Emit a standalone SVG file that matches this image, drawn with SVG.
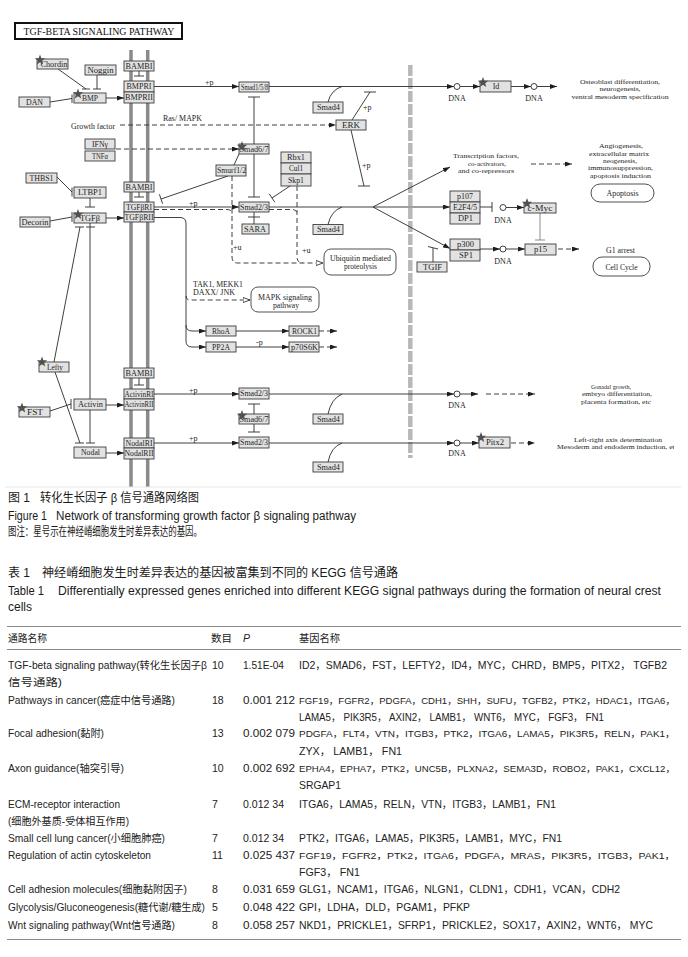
<svg xmlns="http://www.w3.org/2000/svg" width="688" height="957" viewBox="0 0 688 957">
<style>
.b{fill:#e2e2e2;stroke:#3c3c3c;stroke-width:0.9}
.rb{fill:#fff;stroke:#3c3c3c;stroke-width:0.9}
.t{font-family:"Liberation Serif","DejaVu Serif",serif;font-size:8px;fill:#1e1e1e;text-anchor:middle}
.t7{font-family:"Liberation Serif","DejaVu Serif",serif;font-size:6.6px;fill:#1e1e1e;text-anchor:middle}
.t7s{font-family:"Liberation Serif","DejaVu Serif",serif;font-size:6.6px;fill:#1e1e1e}
.ts{font-family:"Liberation Serif","DejaVu Serif",serif;font-size:8px;fill:#1e1e1e}
.l{fill:none;stroke:#2a2a2a;stroke-width:0.9}
.d{fill:none;stroke:#2a2a2a;stroke-width:0.9;stroke-dasharray:5,3}
.g{fill:none;stroke:#808080;stroke-width:0.9}
.mem{stroke:#8a8a8a;stroke-width:3.5}
.dna{fill:#fff;stroke:#2a2a2a;stroke-width:0.9}
.cap{font-family:"Liberation Sans","Noto Sans CJK SC",sans-serif;font-size:12px;fill:#1a1a1a}
.tb{font-family:"Liberation Sans","Noto Sans CJK SC",sans-serif;font-size:10.5px;fill:#222}
.tbw{font-family:"Liberation Sans","Noto Sans CJK SC",sans-serif;font-size:9.5px;fill:#222}
.rule{stroke:#8a8a8a;stroke-width:1}
</style>
<defs>
<marker id="a" viewBox="0 0 7 5" refX="7" refY="2.5" markerWidth="7" markerHeight="5" markerUnits="userSpaceOnUse" orient="auto"><path d="M0,0L7,2.5L0,5z" fill="#1e1e1e"/></marker>
<marker id="o" viewBox="0 0 8 6" refX="7.5" refY="3" markerWidth="8" markerHeight="6" markerUnits="userSpaceOnUse" orient="auto"><path d="M0.5,0.5L7.5,3L0.5,5.5z" fill="#fff" stroke="#1e1e1e" stroke-width="0.8"/></marker>
<path id="star" d="M0,-5.5L1.35,-1.86L5.23,-1.7L2.19,0.71L3.23,4.45L0,2.3L-3.23,4.45L-2.19,0.71L-5.23,-1.7L-1.35,-1.86Z" fill="#505050"/>
<clipPath id="clipR"><rect x="0" y="400" width="674" height="80"/></clipPath>
</defs>
<rect width="688" height="957" fill="#fff"/>

<g id="background">
<line class="mem" x1="131" y1="50" x2="131" y2="487"/>
<line class="mem" x1="147.7" y1="50" x2="147.7" y2="487"/>
<line x1="410.3" y1="65" x2="410.3" y2="458" stroke="#b8b8b8" stroke-width="4.5" stroke-dasharray="11,2"/>
<line x1="5" y1="487" x2="681" y2="487" stroke="#e6e6e6" stroke-width="1"/>
</g>

<g id="title">
<rect x="15" y="23" width="167" height="16" fill="#fff" stroke="#111" stroke-width="2"/>
<text x="99" y="35" font-family="Liberation Serif,serif" font-size="9.5" text-anchor="middle" textLength="151" lengthAdjust="spacingAndGlyphs" fill="#111">TGF-BETA SIGNALING PATHWAY</text>
</g>

<g id="connectors">
<line class="l" x1="58" y1="69" x2="86" y2="89"/>
<line class="l" x1="82" y1="89" x2="90" y2="89"/>
<line class="l" x1="97" y1="75" x2="97" y2="89"/>
<line class="l" x1="93" y1="89" x2="101" y2="89"/>
<line class="l" x1="50" y1="102" x2="72" y2="98.5"/>
<line class="l" x1="72" y1="94.5" x2="72" y2="103"/>
<line class="l" x1="106" y1="98" x2="124" y2="98" marker-end="url(#a)"/>
<line class="l" x1="139" y1="71" x2="139" y2="76"/>
<line class="l" x1="134" y1="76" x2="144" y2="76"/>
<line class="l" x1="154" y1="86.5" x2="239" y2="86.5" marker-end="url(#a)"/>
<line class="l" x1="269" y1="86.5" x2="454" y2="86.5" marker-end="url(#a)"/>
<path class="l" d="M328,102 Q331,90 342,86.5"/>
<line class="l" x1="460" y1="86.5" x2="480" y2="86.5" marker-end="url(#a)"/>
<line class="l" x1="511" y1="86.5" x2="531" y2="86.5" marker-end="url(#a)"/>
<line class="l" x1="537" y1="86.5" x2="557" y2="86.5" marker-end="url(#a)"/>
<line class="d" x1="120" y1="125" x2="336" y2="125" marker-end="url(#a)"/>
<line class="d" x1="116" y1="149" x2="239" y2="149" marker-end="url(#a)"/>
<line class="l" x1="254" y1="97" x2="254" y2="197"/>
<line class="l" x1="248" y1="97" x2="260" y2="97"/>
<line class="l" x1="248" y1="197" x2="260" y2="197"/>
<line class="l" x1="234" y1="165" x2="239" y2="154"/>
<line class="l" x1="228" y1="176" x2="161" y2="199"/>
<line class="l" x1="159.4" y1="194.3" x2="162.6" y2="203.7"/>
<line class="l" x1="293" y1="184" x2="272" y2="198"/>
<line class="l" x1="269.2" y1="193.8" x2="274.8" y2="202.2"/>
<line class="l" x1="352" y1="120" x2="370" y2="92"/>
<line class="l" x1="364" y1="92" x2="376" y2="92"/>
<line class="l" x1="351" y1="130" x2="364" y2="186"/>
<line class="l" x1="358" y1="186" x2="370" y2="186"/>
<line class="l" x1="57" y1="177" x2="72" y2="192"/>
<line class="l" x1="72" y1="187.5" x2="72" y2="196.5"/>
<line class="l" x1="90" y1="198" x2="90" y2="207"/>
<line class="l" x1="85" y1="207" x2="95" y2="207"/>
<line class="l" x1="50" y1="221" x2="72" y2="217"/>
<line class="l" x1="72" y1="212" x2="72" y2="222"/>
<line class="l" x1="106" y1="218" x2="124" y2="218" marker-end="url(#a)"/>
<line class="l" x1="139" y1="192" x2="139" y2="197"/>
<line class="l" x1="134" y1="197" x2="144" y2="197"/>
<line class="l" x1="154" y1="207" x2="239" y2="207" marker-end="url(#a)"/>
<path class="d" d="M154,209.5 H227 Q232,209.5 232,214"/>
<path class="d" d="M232,176 V257 Q232,263 238,263 H323" marker-end="url(#o)"/>
<path class="d" d="M269,209.5 H292 Q297,209.5 297,214"/>
<path class="d" d="M297,186 V257 Q297,263 303,263"/>
<line class="l" x1="254" y1="212" x2="254" y2="224"/>
<line class="l" x1="248" y1="217" x2="260" y2="217"/>
<line class="l" x1="269" y1="207" x2="373" y2="207"/>
<line class="l" x1="373" y1="207" x2="450" y2="167" marker-end="url(#a)"/>
<line class="l" x1="373" y1="207" x2="450" y2="207" marker-end="url(#a)"/>
<line class="l" x1="373" y1="207" x2="450" y2="248.5" marker-end="url(#a)"/>
<path class="l" d="M328,224.5 Q331,211 342,207"/>
<line class="d" x1="531" y1="164" x2="572" y2="164" marker-end="url(#a)"/>
<line class="l" x1="480" y1="207" x2="492" y2="207"/>
<line class="l" x1="492" y1="202" x2="492" y2="212"/>
<line class="l" x1="506" y1="207.5" x2="524" y2="207.5" marker-end="url(#a)"/>
<line class="g" x1="540" y1="213" x2="540" y2="240"/>
<line class="g" x1="535" y1="240" x2="545" y2="240"/>
<line class="l" x1="480" y1="249" x2="500" y2="249" marker-end="url(#a)"/>
<line class="l" x1="506" y1="249" x2="525" y2="249" marker-end="url(#a)"/>
<line class="d" x1="558" y1="249" x2="579" y2="249" marker-end="url(#a)"/>
<line class="l" x1="433" y1="262" x2="433" y2="248"/>
<line class="l" x1="428" y1="246.5" x2="438" y2="249"/>
<path class="l" d="M154,217.5 H180 Q186,217.5 186,223.5 V325 Q186,331 192,331 H206" marker-end="url(#a)"/>
<path class="l" d="M186,325 V341 Q186,347 192,347 H206" marker-end="url(#a)"/>
<path class="d" d="M186,296 Q186,300 190,300 H250" marker-end="url(#o)"/>
<line class="l" x1="236" y1="331" x2="289" y2="331" marker-end="url(#a)"/>
<line class="l" x1="236" y1="347" x2="289" y2="347" marker-end="url(#a)"/>
<line class="d" x1="319" y1="331" x2="337" y2="331" marker-end="url(#a)"/>
<line class="d" x1="319" y1="347" x2="337" y2="347" marker-end="url(#a)"/>
<line class="l" x1="80" y1="227" x2="54" y2="362"/>
<line class="l" x1="75" y1="227" x2="84" y2="227"/>
<line class="l" x1="55" y1="372" x2="80" y2="443"/>
<line class="l" x1="75" y1="443" x2="84" y2="443"/>
<line class="l" x1="90" y1="223" x2="90" y2="443"/>
<line class="l" x1="86" y1="227" x2="95" y2="227"/>
<line class="l" x1="86" y1="443" x2="95" y2="443"/>
<line class="l" x1="50" y1="411" x2="71" y2="404"/>
<line class="l" x1="71" y1="399" x2="71" y2="409"/>
<line class="l" x1="106" y1="405" x2="124" y2="405" marker-end="url(#a)"/>
<line class="l" x1="139" y1="378" x2="139" y2="385"/>
<line class="l" x1="134" y1="385" x2="144" y2="385"/>
<line class="l" x1="154" y1="394" x2="239" y2="394" marker-end="url(#a)"/>
<line class="l" x1="106" y1="453" x2="124" y2="453" marker-end="url(#a)"/>
<line class="l" x1="154" y1="443" x2="239" y2="443" marker-end="url(#a)"/>
<line class="l" x1="254" y1="404" x2="254" y2="432"/>
<line class="l" x1="248" y1="404" x2="260" y2="404"/>
<line class="l" x1="248" y1="432" x2="260" y2="432"/>
<line class="l" x1="269" y1="394" x2="454" y2="394" marker-end="url(#a)"/>
<path class="l" d="M328,414 Q331,399 342,394"/>
<line class="l" x1="460" y1="394" x2="478" y2="394" marker-end="url(#a)"/>
<line class="d" x1="486" y1="394" x2="535" y2="394" marker-end="url(#a)"/>
<line class="l" x1="269" y1="443" x2="454" y2="443" marker-end="url(#a)"/>
<path class="l" d="M328,462 Q331,447 342,443"/>
<line class="l" x1="460" y1="443" x2="479" y2="443" marker-end="url(#a)"/>
<line class="d" x1="511" y1="443" x2="535" y2="443" marker-end="url(#a)"/>
</g>

<g id="dna">
<circle class="dna" cx="457" cy="86.5" r="3"/><text class="t" x="457" y="101">DNA</text>
<circle class="dna" cx="534" cy="86.5" r="3"/><text class="t" x="534" y="101">DNA</text>
<circle class="dna" cx="503" cy="207.5" r="3"/><text class="t" x="503" y="223">DNA</text>
<circle class="dna" cx="503" cy="249" r="3"/><text class="t" x="503" y="264">DNA</text>
<circle class="dna" cx="457" cy="394" r="3"/><text class="t" x="457" y="408">DNA</text>
<circle class="dna" cx="457" cy="443" r="3"/><text class="t" x="457" y="456">DNA</text>
</g>

<g id="labels">
<text class="ts" x="115" y="128.5" text-anchor="end" textLength="44" lengthAdjust="spacingAndGlyphs">Growth factor</text>
<text class="ts" x="163" y="121" textLength="39" lengthAdjust="spacingAndGlyphs">Ras/ MAPK</text>
<text class="ts" x="205" y="85">+p</text>
<text class="ts" x="189" y="206">+p</text>
<text class="ts" x="189" y="393">+p</text>
<text class="ts" x="189" y="441">+p</text>
<text class="ts" x="363" y="110">+p</text>
<text class="ts" x="362" y="168">+p</text>
<text class="ts" x="233" y="250">+u</text>
<text class="ts" x="302" y="252.5">+u</text>
<text class="ts" x="256" y="345">-p</text>
<text class="ts" x="193" y="287" textLength="50" lengthAdjust="spacingAndGlyphs">TAK1, MEKK1</text>
<text class="ts" x="193" y="294.5" textLength="42" lengthAdjust="spacingAndGlyphs">DAXX/ JNK</text>
<text class="t7" x="620" y="84" textLength="80" lengthAdjust="spacingAndGlyphs">Osteoblast differentiation,</text>
<text class="t7" x="620" y="91.3" textLength="41" lengthAdjust="spacingAndGlyphs">neurogenesis,</text>
<text class="t7" x="620" y="98.6" textLength="97" lengthAdjust="spacingAndGlyphs">ventral mesoderm specification</text>
<text class="t7" x="486" y="158.2" textLength="66" lengthAdjust="spacingAndGlyphs">Transcription factors,</text>
<text class="t7" x="487" y="165.6" textLength="38" lengthAdjust="spacingAndGlyphs">co-activators,</text>
<text class="t7" x="486" y="173" textLength="56" lengthAdjust="spacingAndGlyphs">and co-repressors</text>
<text class="t7" x="621" y="148.2" textLength="44" lengthAdjust="spacingAndGlyphs">Angiogenesis,</text>
<text class="t7" x="619" y="155.6" textLength="60" lengthAdjust="spacingAndGlyphs">extracellular matrix</text>
<text class="t7" x="620" y="163" textLength="34" lengthAdjust="spacingAndGlyphs">neogenesis,</text>
<text class="t7" x="620.5" y="170.4" textLength="65" lengthAdjust="spacingAndGlyphs">immunosuppression,</text>
<text class="t7" x="620.5" y="177.8" textLength="61" lengthAdjust="spacingAndGlyphs">apoptosis induction</text>
<text class="t" x="620.5" y="253" textLength="29" lengthAdjust="spacingAndGlyphs">G1 arrest</text>
<text class="t7" x="611" y="389" textLength="40" lengthAdjust="spacingAndGlyphs">Gonadal growth,</text>
<text class="t7" x="617" y="396.3" textLength="70" lengthAdjust="spacingAndGlyphs">embryo differentiation,</text>
<text class="t7" x="616" y="403.6" textLength="70" lengthAdjust="spacingAndGlyphs">placenta formation, etc</text>
<text class="t7" x="618" y="441.6" textLength="88" lengthAdjust="spacingAndGlyphs">Left-right axis determination</text>
<text class="t7s" x="557" y="449" textLength="121" lengthAdjust="spacingAndGlyphs" clip-path="url(#clipR)">Mesoderm and endoderm induction, etc</text>
</g>

<g id="n-chordin"><rect class="b" x="37" y="59" width="31" height="10"/><text class="t" x="54" y="66.8" textLength="27" lengthAdjust="spacingAndGlyphs">Chordin</text><use href="#star" x="40" y="60"/></g>
<g id="n-noggin"><rect class="b" x="85" y="65" width="31" height="10"/><text class="t" x="100.5" y="72.8" textLength="26" lengthAdjust="spacingAndGlyphs">Noggin</text></g>
<g id="n-dan"><rect class="b" x="19" y="97" width="31" height="10"/><text class="t" x="34.5" y="104.8" textLength="17" lengthAdjust="spacingAndGlyphs">DAN</text></g>
<g id="n-bmp"><rect class="b" x="74" y="93" width="32" height="10"/><text class="t" x="90" y="100.8" textLength="16" lengthAdjust="spacingAndGlyphs">BMP</text><use href="#star" x="78" y="94"/></g>
<g id="n-bambi1"><rect class="b" x="124" y="61" width="30" height="10"/><text class="t" x="139" y="68.8" textLength="27" lengthAdjust="spacingAndGlyphs">BAMBI</text></g>
<g id="n-bmpr"><rect class="b" x="124" y="81" width="30" height="11"/><text class="t" x="139" y="89.3" textLength="25" lengthAdjust="spacingAndGlyphs">BMPRI</text><rect class="b" x="124" y="92" width="30" height="11"/><text class="t" x="139" y="100.3" textLength="28" lengthAdjust="spacingAndGlyphs">BMPRII</text></g>
<g id="n-ifng"><rect class="b" x="85" y="139" width="30" height="10"/><text class="t" x="100" y="146.8" textLength="16" lengthAdjust="spacingAndGlyphs">IFNγ</text></g>
<g id="n-tnfa"><rect class="b" x="85" y="151" width="30" height="10"/><text class="t" x="100" y="158.8" textLength="16" lengthAdjust="spacingAndGlyphs">TNFα</text></g>
<g id="n-thbs1"><rect class="b" x="26" y="173" width="31" height="10"/><text class="t" x="41.5" y="180.8" textLength="24" lengthAdjust="spacingAndGlyphs">THBS1</text></g>
<g id="n-ltbp1"><rect class="b" x="74" y="187" width="32" height="11"/><text class="t" x="90" y="195.3" textLength="24" lengthAdjust="spacingAndGlyphs">LTBP1</text></g>
<g id="n-decorin"><rect class="b" x="20" y="217" width="30" height="10"/><text class="t" x="35" y="224.8" textLength="27" lengthAdjust="spacingAndGlyphs">Decorin</text></g>
<g id="n-tgfb"><rect class="b" x="74" y="213" width="32" height="10"/><text class="t" x="90" y="220.8" textLength="20" lengthAdjust="spacingAndGlyphs">TGFβ</text><use href="#star" x="78" y="214.5"/></g>
<g id="n-bambi2"><rect class="b" x="124" y="182" width="30" height="10"/><text class="t" x="139" y="189.8" textLength="27" lengthAdjust="spacingAndGlyphs">BAMBI</text></g>
<g id="n-tgfbr"><rect class="b" x="124" y="202" width="30" height="10"/><text class="t" x="139" y="209.8" textLength="26" lengthAdjust="spacingAndGlyphs">TGFβRI</text><rect class="b" x="124" y="212" width="30" height="10"/><text class="t" x="139" y="219.8" textLength="29" lengthAdjust="spacingAndGlyphs">TGFβRII</text></g>
<g id="n-lefty"><rect class="b" x="39" y="362" width="30" height="10"/><text class="t" x="55" y="369.8" textLength="16" lengthAdjust="spacingAndGlyphs">Lefty</text><use href="#star" x="42" y="362"/></g>
<g id="n-fst"><rect class="b" x="19" y="407" width="31" height="10"/><text class="t" x="35" y="414.8" textLength="16" lengthAdjust="spacingAndGlyphs">FST</text><use href="#star" x="22" y="408"/></g>
<g id="n-activin"><rect class="b" x="74" y="399" width="32" height="11"/><text class="t" x="90.5" y="407.3" textLength="25" lengthAdjust="spacingAndGlyphs">Activin</text></g>
<g id="n-nodal"><rect class="b" x="74" y="447" width="32" height="11"/><text class="t" x="90.5" y="455.3" textLength="19" lengthAdjust="spacingAndGlyphs">Nodal</text></g>
<g id="n-bambi3"><rect class="b" x="124" y="368" width="30" height="10"/><text class="t" x="139" y="375.8" textLength="27" lengthAdjust="spacingAndGlyphs">BAMBI</text></g>
<g id="n-activinr"><rect class="b" x="124" y="389" width="30" height="10"/><text class="t" x="139" y="396.8" textLength="29" lengthAdjust="spacingAndGlyphs">ActivinRI</text><rect class="b" x="124" y="399" width="30" height="11"/><text class="t" x="139" y="407.3" textLength="29" lengthAdjust="spacingAndGlyphs">ActivinRII</text></g>
<g id="n-nodalr"><rect class="b" x="124" y="438" width="30" height="10"/><text class="t" x="139" y="445.8" textLength="27" lengthAdjust="spacingAndGlyphs">NodalRI</text><rect class="b" x="124" y="448" width="30" height="11"/><text class="t" x="139" y="456.3" textLength="29" lengthAdjust="spacingAndGlyphs">NodalRII</text></g>
<g id="n-smad158"><rect class="b" x="239" y="82" width="30" height="10"/><text class="t" x="254.5" y="89.8" textLength="27" lengthAdjust="spacingAndGlyphs">Smad1/5/8</text></g>
<g id="n-smad67a"><rect class="b" x="239" y="144" width="30" height="10"/><text class="t" x="254" y="151.8" textLength="29" lengthAdjust="spacingAndGlyphs">Smad6/7</text><use href="#star" x="242" y="146.5"/></g>
<g id="n-smurf"><rect class="b" x="216" y="165" width="30" height="11"/><text class="t" x="231.5" y="173.3" textLength="29" lengthAdjust="spacingAndGlyphs">Smurf1/2</text></g>
<g id="n-rbx"><rect class="b" x="281" y="152" width="30" height="11"/><text class="t" x="296" y="160.3" textLength="18" lengthAdjust="spacingAndGlyphs">Rbx1</text><rect class="b" x="281" y="163" width="30" height="11"/><text class="t" x="296" y="171.3" textLength="14" lengthAdjust="spacingAndGlyphs">Cul1</text><rect class="b" x="281" y="174" width="30" height="12"/><text class="t" x="296" y="182.8" textLength="16" lengthAdjust="spacingAndGlyphs">Skp1</text></g>
<g id="n-smad23a"><rect class="b" x="239" y="202" width="30" height="10"/><text class="t" x="254" y="209.8" textLength="28" lengthAdjust="spacingAndGlyphs">Smad2/3</text></g>
<g id="n-sara"><rect class="b" x="242" y="224" width="27" height="10"/><text class="t" x="255" y="231.8" textLength="22" lengthAdjust="spacingAndGlyphs">SARA</text></g>
<g id="n-smad4a"><rect class="b" x="313" y="102" width="30" height="11"/><text class="t" x="328.5" y="110.3" textLength="23" lengthAdjust="spacingAndGlyphs">Smad4</text></g>
<g id="n-smad4b"><rect class="b" x="313" y="224.5" width="30" height="10"/><text class="t" x="328.5" y="232.3" textLength="23" lengthAdjust="spacingAndGlyphs">Smad4</text></g>
<g id="n-erk"><rect class="b" x="336" y="120" width="30" height="10"/><text class="t" x="351" y="127.8" textLength="18" lengthAdjust="spacingAndGlyphs">ERK</text></g>
<g id="n-ubiquitin"><rect class="rb" x="324" y="249" width="72" height="26" rx="7"/><text class="t" x="360.5" y="261" textLength="61" lengthAdjust="spacingAndGlyphs">Ubiquitin mediated</text><text class="t" x="360.5" y="268.5" textLength="33" lengthAdjust="spacingAndGlyphs">proteolysis</text></g>
<g id="n-mapk"><rect class="rb" x="251" y="287" width="68" height="25" rx="7"/><text class="t" x="285" y="300" textLength="54" lengthAdjust="spacingAndGlyphs">MAPK signaling</text><text class="t" x="286" y="307.5" textLength="26" lengthAdjust="spacingAndGlyphs">pathway</text></g>
<g id="n-rhoa"><rect class="b" x="206" y="326" width="30" height="10"/><text class="t" x="221" y="333.8" textLength="18" lengthAdjust="spacingAndGlyphs">RhoA</text></g>
<g id="n-rock1"><rect class="b" x="289" y="326" width="30" height="10"/><text class="t" x="304.5" y="333.8" textLength="25" lengthAdjust="spacingAndGlyphs">ROCK1</text></g>
<g id="n-pp2a"><rect class="b" x="206" y="342" width="30" height="10"/><text class="t" x="221" y="349.8" textLength="18" lengthAdjust="spacingAndGlyphs">PP2A</text></g>
<g id="n-p70s6k"><rect class="b" x="289" y="342" width="30" height="10"/><text class="t" x="304.5" y="349.8" textLength="27" lengthAdjust="spacingAndGlyphs">p70S6K</text></g>
<g id="n-smad23b"><rect class="b" x="239" y="388" width="30" height="11"/><text class="t" x="254" y="396.3" textLength="28" lengthAdjust="spacingAndGlyphs">Smad2/3</text></g>
<g id="n-smad67b"><rect class="b" x="239" y="414" width="30" height="10"/><text class="t" x="254" y="421.8" textLength="29" lengthAdjust="spacingAndGlyphs">Smad6/7</text><use href="#star" x="242" y="415.5"/></g>
<g id="n-smad23c"><rect class="b" x="239" y="437" width="30" height="11"/><text class="t" x="254" y="445.3" textLength="28" lengthAdjust="spacingAndGlyphs">Smad2/3</text></g>
<g id="n-smad4c"><rect class="b" x="313" y="414" width="30" height="10"/><text class="t" x="328.5" y="421.8" textLength="23" lengthAdjust="spacingAndGlyphs">Smad4</text></g>
<g id="n-smad4d"><rect class="b" x="313" y="462" width="30" height="10"/><text class="t" x="328.5" y="469.8" textLength="23" lengthAdjust="spacingAndGlyphs">Smad4</text></g>
<g id="n-id"><rect class="b" x="480" y="81" width="31" height="11"/><text class="t" x="496" y="89.3">Id</text><use href="#star" x="483" y="82.5"/></g>
<g id="n-e2f"><rect class="b" x="450" y="191" width="30" height="11"/><text class="t" x="465" y="199.3" textLength="16" lengthAdjust="spacingAndGlyphs">p107</text><rect class="b" x="450" y="202" width="30" height="11"/><text class="t" x="465" y="210.3" textLength="24" lengthAdjust="spacingAndGlyphs">E2F4/5</text><rect class="b" x="450" y="213" width="30" height="11"/><text class="t" x="465.5" y="221.3" textLength="15" lengthAdjust="spacingAndGlyphs">DP1</text></g>
<g id="n-cmyc"><rect class="b" x="524" y="203" width="32" height="10"/><text class="t" x="540" y="210.8" textLength="25" lengthAdjust="spacingAndGlyphs">c-Myc</text><use href="#star" x="527" y="203.5"/></g>
<g id="n-p300"><rect class="b" x="450" y="239" width="30" height="11"/><text class="t" x="465.5" y="247.3" textLength="17" lengthAdjust="spacingAndGlyphs">p300</text><rect class="b" x="450" y="250" width="30" height="11"/><text class="t" x="466" y="258.3" textLength="14" lengthAdjust="spacingAndGlyphs">SP1</text></g>
<g id="n-p15"><rect class="b" x="525" y="244" width="31" height="11"/><text class="t" x="540.5" y="252.3" textLength="13" lengthAdjust="spacingAndGlyphs">p15</text></g>
<g id="n-tgif"><rect class="b" x="417" y="262" width="30" height="10"/><text class="t" x="432.5" y="269.8" textLength="19" lengthAdjust="spacingAndGlyphs">TGIF</text></g>
<g id="n-pitx2"><rect class="b" x="479" y="437" width="31" height="11"/><text class="t" x="495" y="445.3" textLength="18" lengthAdjust="spacingAndGlyphs">Pitx2</text><use href="#star" x="481" y="437.5"/></g>
<g id="n-apoptosis"><rect class="rb" x="591" y="184" width="63" height="18" rx="9"/><text class="t" x="622.5" y="196" textLength="32" lengthAdjust="spacingAndGlyphs">Apoptosis</text></g>
<g id="n-cellcycle"><rect class="rb" x="593" y="257" width="57" height="19" rx="9"/><text class="t" x="621.5" y="269.5" textLength="32" lengthAdjust="spacingAndGlyphs">Cell Cycle</text></g>

<g id="caption">
<text class="cap" x="8" y="502">图 1</text>
<text class="cap" x="40" y="502" textLength="159" lengthAdjust="spacingAndGlyphs">转化生长因子 β 信号通路网络图</text>
<text class="cap" x="8" y="520" textLength="39" lengthAdjust="spacingAndGlyphs">Figure 1</text>
<text class="cap" x="56" y="520" textLength="300" lengthAdjust="spacingAndGlyphs">Network of transforming growth factor β signaling pathway</text>
<text class="cap" x="8" y="535.5" font-size="9" fill="#555" textLength="194" lengthAdjust="spacingAndGlyphs">图注：星号示在神经嵴细胞发生时差异表达的基因。</text>
<text class="cap" x="8" y="577">表 1</text>
<text class="cap" x="42" y="577" textLength="356" lengthAdjust="spacingAndGlyphs">神经嵴细胞发生时差异表达的基因被富集到不同的 KEGG 信号通路</text>
<text class="cap" x="8" y="594.5" textLength="36" lengthAdjust="spacingAndGlyphs">Table 1</text>
<text class="cap" x="58" y="594.5" textLength="603" lengthAdjust="spacingAndGlyphs">Differentially expressed genes enriched into different KEGG signal pathways during the formation of neural crest</text>
<text class="cap" x="8" y="611">cells</text>
</g>

<g id="table">
<line class="rule" x1="7" y1="626.5" x2="681" y2="626.5"/>
<line class="rule" x1="7" y1="649.5" x2="681" y2="649.5"/>
<line class="rule" x1="7" y1="939.5" x2="681" y2="939.5"/>
<text class="tb" x="8" y="642" textLength="39" lengthAdjust="spacingAndGlyphs">通路名称</text>
<text class="tb" x="211" y="642">数目</text>
<text class="tb" x="243" y="642" font-style="italic">P</text>
<text class="tb" x="299" y="642" textLength="41" lengthAdjust="spacingAndGlyphs">基因名称</text>

<text class="tb" x="8" y="669" textLength="199" lengthAdjust="spacingAndGlyphs">TGF-beta signaling pathway(转化生长因子β</text>
<text class="tb" x="8" y="686" textLength="54" lengthAdjust="spacingAndGlyphs">信号通路)</text>
<text class="tb" x="212" y="669">10</text>
<text class="tb" x="243" y="669" textLength="41" lengthAdjust="spacingAndGlyphs">1.51E-04</text>
<text class="tb" x="299" y="669" textLength="368" lengthAdjust="spacingAndGlyphs">ID2，SMAD6，FST，LEFTY2，ID4，MYC，CHRD，BMP5，PITX2， TGFB2</text>

<text class="tb" x="8" y="704" textLength="167" lengthAdjust="spacingAndGlyphs">Pathways in cancer(癌症中信号通路)</text>
<text class="tb" x="212" y="704">18</text>
<text class="tb" x="243" y="704" textLength="52" lengthAdjust="spacingAndGlyphs">0.001 212</text>
<text class="tbw" x="299" y="704" textLength="376" lengthAdjust="spacingAndGlyphs">FGF19，FGFR2，PDGFA，CDH1，SHH，SUFU，TGFB2，PTK2，HDAC1，ITGA6，</text>
<text class="tb" x="299" y="721" textLength="305" lengthAdjust="spacingAndGlyphs">LAMA5， PIK3R5， AXIN2， LAMB1， WNT6， MYC， FGF3， FN1</text>

<text class="tb" x="8" y="737" textLength="96" lengthAdjust="spacingAndGlyphs">Focal adhesion(黏附)</text>
<text class="tb" x="212" y="737">13</text>
<text class="tb" x="243" y="737" textLength="52" lengthAdjust="spacingAndGlyphs">0.002 079</text>
<text class="tbw" x="299" y="737" textLength="376" lengthAdjust="spacingAndGlyphs">PDGFA，FLT4，VTN，ITGB3，PTK2，ITGA6，LAMA5，PIK3R5，RELN，PAK1，</text>
<text class="tb" x="299" y="755" textLength="103" lengthAdjust="spacingAndGlyphs">ZYX， LAMB1， FN1</text>

<text class="tb" x="8" y="772" textLength="116" lengthAdjust="spacingAndGlyphs">Axon guidance(轴突引导)</text>
<text class="tb" x="212" y="772">10</text>
<text class="tb" x="243" y="772" textLength="52" lengthAdjust="spacingAndGlyphs">0.002 692</text>
<text class="tbw" x="299" y="772" textLength="376" lengthAdjust="spacingAndGlyphs">EPHA4，EPHA7，PTK2，UNC5B，PLXNA2，SEMA3D，ROBO2，PAK1，CXCL12，</text>
<text class="tb" x="299" y="789" textLength="42" lengthAdjust="spacingAndGlyphs">SRGAP1</text>

<text class="tb" x="8" y="808" textLength="112" lengthAdjust="spacingAndGlyphs">ECM-receptor interaction</text>
<text class="tb" x="8" y="825" textLength="121" lengthAdjust="spacingAndGlyphs">(细胞外基质-受体相互作用)</text>
<text class="tb" x="212" y="808">7</text>
<text class="tb" x="243" y="808" textLength="41" lengthAdjust="spacingAndGlyphs">0.012 34</text>
<text class="tb" x="299" y="808" textLength="257" lengthAdjust="spacingAndGlyphs">ITGA6，LAMA5，RELN，VTN，ITGB3，LAMB1，FN1</text>

<text class="tb" x="8" y="842" textLength="157" lengthAdjust="spacingAndGlyphs">Small cell lung cancer(小细胞肺癌)</text>
<text class="tb" x="212" y="842">7</text>
<text class="tb" x="243" y="842" textLength="41" lengthAdjust="spacingAndGlyphs">0.012 34</text>
<text class="tb" x="299" y="842" textLength="263" lengthAdjust="spacingAndGlyphs">PTK2，ITGA6，LAMA5，PIK3R5，LAMB1，MYC，FN1</text>

<text class="tb" x="8" y="859" textLength="143" lengthAdjust="spacingAndGlyphs">Regulation of actin cytoskeleton</text>
<text class="tb" x="212" y="859">11</text>
<text class="tb" x="243" y="859" textLength="52" lengthAdjust="spacingAndGlyphs">0.025 437</text>
<text class="tbw" x="299" y="859" textLength="376" lengthAdjust="spacingAndGlyphs">FGF19，FGFR2，PTK2，ITGA6，PDGFA，MRAS，PIK3R5，ITGB3，PAK1，</text>
<text class="tb" x="299" y="876" textLength="61" lengthAdjust="spacingAndGlyphs">FGF3， FN1</text>

<text class="tb" x="8" y="893" textLength="179" lengthAdjust="spacingAndGlyphs">Cell adhesion molecules(细胞黏附因子)</text>
<text class="tb" x="212" y="893">8</text>
<text class="tb" x="243" y="893" textLength="52" lengthAdjust="spacingAndGlyphs">0.031 659</text>
<text class="tb" x="299" y="893" textLength="321" lengthAdjust="spacingAndGlyphs">GLG1，NCAM1，ITGA6，NLGN1，CLDN1，CDH1，VCAN，CDH2</text>

<text class="tb" x="8" y="911" textLength="197" lengthAdjust="spacingAndGlyphs">Glycolysis/Gluconeogenesis(糖代谢/糖生成)</text>
<text class="tb" x="212" y="911">5</text>
<text class="tb" x="243" y="911" textLength="52" lengthAdjust="spacingAndGlyphs">0.048 422</text>
<text class="tb" x="299" y="911" textLength="171" lengthAdjust="spacingAndGlyphs">GPI，LDHA，DLD，PGAM1，PFKP</text>

<text class="tb" x="8" y="929" textLength="167" lengthAdjust="spacingAndGlyphs">Wnt signaling pathway(Wnt信号通路)</text>
<text class="tb" x="212" y="929">8</text>
<text class="tb" x="243" y="929" textLength="52" lengthAdjust="spacingAndGlyphs">0.058 257</text>
<text class="tb" x="299" y="929" textLength="354" lengthAdjust="spacingAndGlyphs">NKD1，PRICKLE1，SFRP1，PRICKLE2，SOX17，AXIN2，WNT6， MYC</text>
</g>
</svg>
